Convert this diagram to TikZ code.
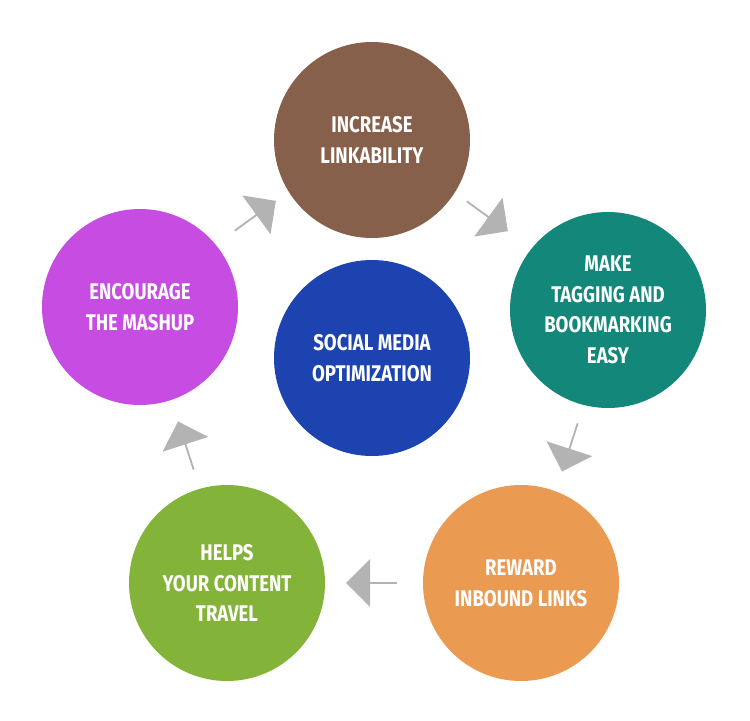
\documentclass[tikz,border=0pt]{standalone}
\usepackage{fontspec}
\setmainfont{Fira Sans}
\usetikzlibrary{shapes.arrows}
\definecolor{cbrown}{HTML}{87604B}
\definecolor{cteal}{HTML}{13877A}
\definecolor{cpurple}{HTML}{C64CE2}
\definecolor{cblue}{HTML}{1C43B0}
\definecolor{corange}{HTML}{EB9A51}
\definecolor{cgreen}{HTML}{84B33A}
\definecolor{cgray}{HTML}{B3B3B3}
\tikzset{
  bub/.style={circle,minimum size=147pt,inner sep=0pt,text=white,align=center,
    font=\fontsize{17}{23}\selectfont\bfseries},
  arr/.style={single arrow,fill=cgray,minimum height=38pt,minimum width=36pt,
    single arrow head extend=5pt,single arrow head indent=0pt,inner sep=0pt}
}
\newcommand{\cx}[1]{\scalebox{0.82}[1]{#1}}
\begin{document}
\begin{tikzpicture}[x=0.75pt,y=-0.75pt]
\useasboundingbox (0,0) rectangle (750,721);
\node[bub,fill=cbrown] (top) at (372,140) {\cx{INCREASE}\\\cx{LINKABILITY}};
\node[bub,fill=cteal] (right) at (608,310) {\cx{MAKE}\\\cx{TAGGING AND}\\\cx{BOOKMARKING}\\\cx{EASY}};
\node[bub,fill=corange] (br) at (521,583) {\cx{REWARD}\\\cx{INBOUND LINKS}};
\node[bub,fill=cgreen] (bl) at (227,583) {\cx{HELPS}\\\cx{YOUR CONTENT}\\\cx{TRAVEL}};
\node[bub,fill=cpurple] (left) at (140,307) {\cx{ENCOURAGE}\\\cx{THE MASHUP}};
\node[bub,fill=cblue] (center) at (372,358) {\cx{SOCIAL MEDIA}\\\cx{OPTIMIZATION}};
\node[arr,rotate=36] (a1) at (255,216) {};
\node[arr,rotate=-36] (a2) at (487,216) {};
\node[arr,rotate=-108] (a3) at (570,447) {};
\node[arr,rotate=180] (a4) at (372,583) {};
\node[arr,rotate=108] (a5) at (186,446) {};
\end{tikzpicture}
\end{document}
